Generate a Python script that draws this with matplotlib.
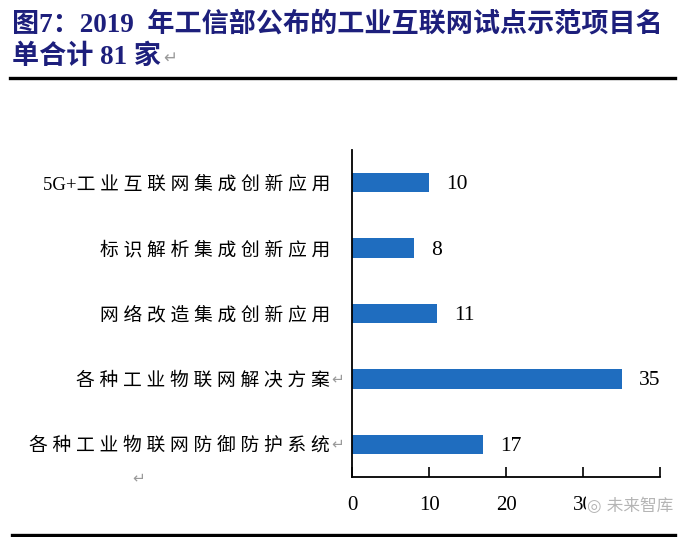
import matplotlib.pyplot as plt
from matplotlib.lines import Line2D
from matplotlib.transforms import offset_copy

plt.rcParams['font.family'] = ['Liberation Serif', 'Noto Sans CJK SC', 'DejaVu Sans']

# 2019年工信部工业互联网试点示范项目（家）
categories = ['5G+工业互联网集成创新应用', '标识解析集成创新应用', '网络改造集成创新应用',
              '各种工业物联网解决方案', '各种工业物联网防御防护系统']
counts = [10, 8, 11, 35, 17]
has_return = [False, False, False, True, True]
xticks = [0, 10, 20, 30, 40]
xticklabels = ['0', '10', '20', '30', '']

title1 = '图7：2019  年工信部公布的工业互联网试点示范项目名'
title2 = '单合计 81 家'

navy = '#1d1f7c'
bar_color = '#1f6dbf'


def spaced(s):
    # 原图中文字间距较宽，用空格模拟
    out = ''
    for ch in s:
        if ord(ch) > 0x2e80:
            out += ch + ' '
        else:
            out += ch
    return out.rstrip()


fig = plt.figure(figsize=(7, 5.37), dpi=100)
ax = fig.add_axes([0.503, 0.1117, 0.44, 0.609])

y = list(range(len(categories)))[::-1]
ax.barh(y, counts, height=0.3, color=bar_color)
ax.set_ylim(-0.5, 4.5)
ax.set_xlim(0, 40)

for yi, v in zip(y, counts):
    ax.annotate(str(v), (v, yi), xytext=(17, -2), textcoords='offset pixels',
                va='center', ha='left', fontsize=15.5)

ax.set_yticks(y)
ax.set_yticklabels([spaced(c) for c in categories], fontsize=13.5)
ax.tick_params(axis='y', length=0, pad=16)

ax.set_xticks(xticks)
ax.set_xticklabels(xticklabels, fontsize=15)
ax.tick_params(axis='x', direction='in', length=7, width=1.2, pad=14)

for s in ['top', 'right']:
    ax.spines[s].set_visible(False)
for s in ['left', 'bottom']:
    ax.spines[s].set_linewidth(1.3)

# 换行符标记
tr = offset_copy(ax.get_yaxis_transform(), fig=fig, x=-21, y=0, units='dots')
for yi, r in zip(y, has_return):
    if r:
        ax.text(0, yi, '↵', transform=tr, ha='left', va='center',
                fontsize=11, color='#9a9a9a', family='DejaVu Sans')
fig.text(132 / 700, 1 - 478 / 537, '↵', ha='left', va='center',
         fontsize=11, color='#9a9a9a', family='DejaVu Sans')

# 标题
fig.text(12 / 700, 1 - 25 / 537, title1, ha='left', va='center',
         fontsize=19.5, fontweight='bold', color=navy)
fig.text(12 / 700, 1 - 57 / 537, title2, ha='left', va='center',
         fontsize=19.5, fontweight='bold', color=navy)
fig.text(163 / 700, 1 - 58 / 537, '↵', ha='left', va='center',
         fontsize=12, color='#9a9a9a', family='DejaVu Sans')

fig.add_artist(Line2D([10 / 700, 675 / 700], [1 - 78 / 537] * 2,
                      color='black', linewidth=2.4))
fig.add_artist(Line2D([12 / 700, 675 / 700], [1 - 535 / 537] * 2,
                      color='black', linewidth=2.4))

# 水印
fig.text(587 / 700, 1 - 506 / 537, '◎ 未来智库', ha='left', va='center',
         fontsize=12, color='#b5b5b5', family=['DejaVu Sans', 'Noto Sans CJK SC'],
         bbox=dict(facecolor='white', edgecolor='none', pad=1))

fig.savefig('out.png', dpi=100)
